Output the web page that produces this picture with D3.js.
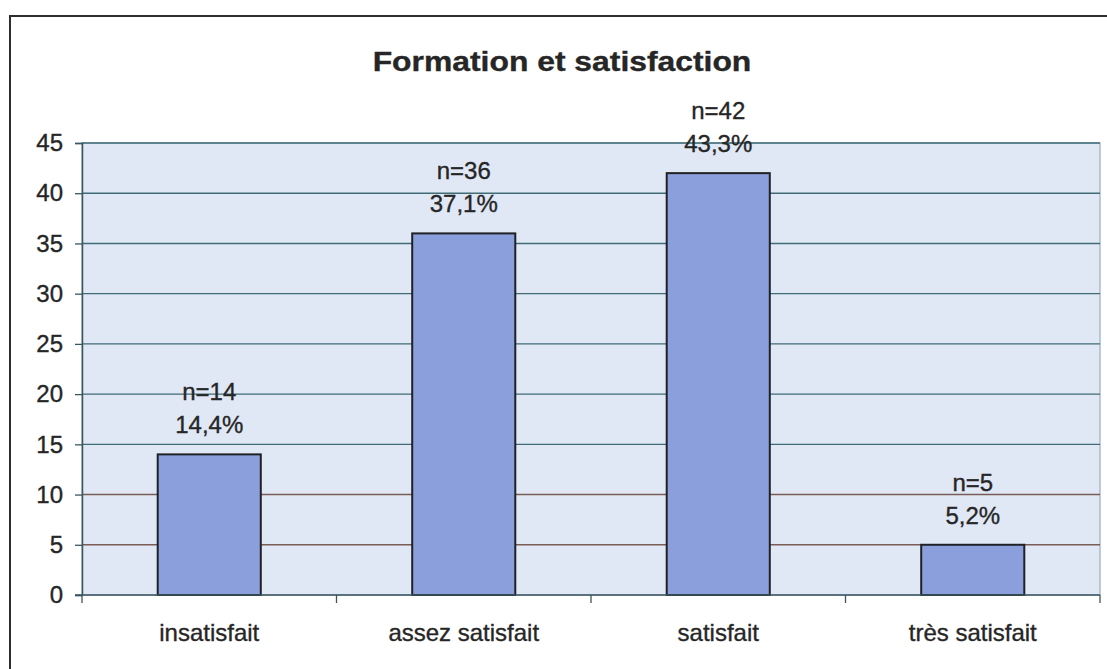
<!DOCTYPE html>
<html>
<head>
<meta charset="utf-8">
<script src="https://cdn.jsdelivr.net/npm/d3@7"></script>
<style>
  body { margin: 0; background: #fff; }
  text { font-family: "Liberation Sans", Arial, sans-serif; fill: #262626; stroke: #262626; stroke-width: 0.35px; }
</style>
</head>
<body>
<svg id="chart" width="1107" height="669"></svg>
<script>
// data
const categories = ["insatisfait", "assez satisfait", "satisfait", "très satisfait"];
const counts = [14, 36, 42, 5];
const percents = ["14,4%", "37,1%", "43,3%", "5,2%"];
const yTicks = [0, 5, 10, 15, 20, 25, 30, 35, 40, 45];
const title = "Formation et satisfaction";

const W = 1107, H = 669;
const margin = { left: 82, right: 7, top: 143, bottom: 74 };
const fs = 24;

const svg = d3.select("#chart");

// outer frame (runs off the bottom/right of the scan)
svg.append("rect")
  .attr("x", 10).attr("y", 16)
  .attr("width", W).attr("height", H)
  .attr("fill", "#fff")
  .attr("stroke", "#2b2f30")
  .attr("stroke-width", 2);

const x = d3.scaleBand()
  .domain(categories)
  .range([margin.left, W - margin.right])
  .padding(0);

// bars: inner/outer padding chosen so steps line up with the category bands
const xb = d3.scaleBand()
  .domain(categories)
  .range([margin.left, W - margin.right])
  .paddingInner(0.595)
  .paddingOuter(0.2975);

const y = d3.scaleLinear()
  .domain([0, 45])
  .range([H - margin.bottom, margin.top]);

// plot background
svg.append("rect")
  .attr("x", margin.left).attr("y", y(45))
  .attr("width", W - margin.right - margin.left)
  .attr("height", y(0) - y(45))
  .attr("fill", "#e0e8f5")
  .attr("stroke", "#a9bccb")
  .attr("stroke-width", 1.5);

const gridColor = v => (v > 0 && v <= 10) ? "#7b5b55" : "#3f6b77";

svg.append("g")
  .selectAll("line")
  .data(yTicks.filter(v => v > 0))
  .join("line")
  .attr("x1", margin.left).attr("x2", W - margin.right)
  .attr("y1", d => y(d)).attr("y2", d => y(d))
  .attr("stroke", gridColor)
  .attr("stroke-width", 1.4);

// y axis
const yAxis = svg.append("g")
  .attr("transform", `translate(${margin.left},0)`)
  .call(d3.axisLeft(y).tickValues(yTicks).tickSize(7).tickPadding(12));
yAxis.select(".domain").attr("stroke", "#3b5560").attr("stroke-width", 1.5);
yAxis.selectAll(".tick line").attr("stroke", "#3b5560").attr("stroke-width", 1.3);
yAxis.selectAll(".tick text")
  .attr("font-size", fs)
  .attr("font-family", "Liberation Sans, Arial, sans-serif")
  .attr("fill", "#262626");

// bars
svg.append("g")
  .selectAll("rect")
  .data(categories)
  .join("rect")
  .attr("x", d => xb(d))
  .attr("y", (d, i) => y(counts[i]))
  .attr("width", xb.bandwidth())
  .attr("height", (d, i) => y(0) - y(counts[i]))
  .attr("fill", "#8c9fdd")
  .attr("stroke", "#1f2224")
  .attr("stroke-width", 2);

// x axis with ticks at category boundaries
const xAxis = svg.append("g")
  .attr("transform", `translate(0,${y(0)})`);
xAxis.append("line")
  .attr("x1", margin.left - 7).attr("x2", W - margin.right)
  .attr("stroke", "#3b5560").attr("stroke-width", 1.5);
const bounds = categories.map(c => x(c)).concat([x(categories[categories.length - 1]) + x.bandwidth()]);
xAxis.selectAll("line.tk")
  .data(bounds)
  .join("line")
  .attr("class", "tk")
  .attr("x1", d => d).attr("x2", d => d)
  .attr("y1", 0).attr("y2", 8)
  .attr("stroke", "#3b5560").attr("stroke-width", 1.3);
xAxis.selectAll("text")
  .data(categories)
  .join("text")
  .attr("x", d => x(d) + x.bandwidth() / 2)
  .attr("y", 46)
  .attr("text-anchor", "middle")
  .attr("font-size", fs)
  .text(d => d);

// value labels above bars
const labels = svg.append("g");
labels.selectAll("text.n")
  .data(categories)
  .join("text")
  .attr("class", "n")
  .attr("x", d => x(d) + x.bandwidth() / 2)
  .attr("y", (d, i) => y(counts[i]) - 54)
  .attr("text-anchor", "middle")
  .attr("font-size", fs)
  .text((d, i) => "n=" + counts[i]);
labels.selectAll("text.p")
  .data(categories)
  .join("text")
  .attr("class", "p")
  .attr("x", d => x(d) + x.bandwidth() / 2)
  .attr("y", (d, i) => y(counts[i]) - 21)
  .attr("text-anchor", "middle")
  .attr("font-size", fs)
  .text((d, i) => percents[i]);

// title
svg.append("text")
  .attr("x", 0).attr("y", 0)
  .attr("transform", "translate(562,71) scale(1.18,1)")
  .attr("text-anchor", "middle")
  .attr("font-size", 27)
  .attr("font-weight", "bold")
  .attr("fill", "#263436")
  .attr("stroke", "#263436")
  .text(title);
</script>
</body>
</html>
